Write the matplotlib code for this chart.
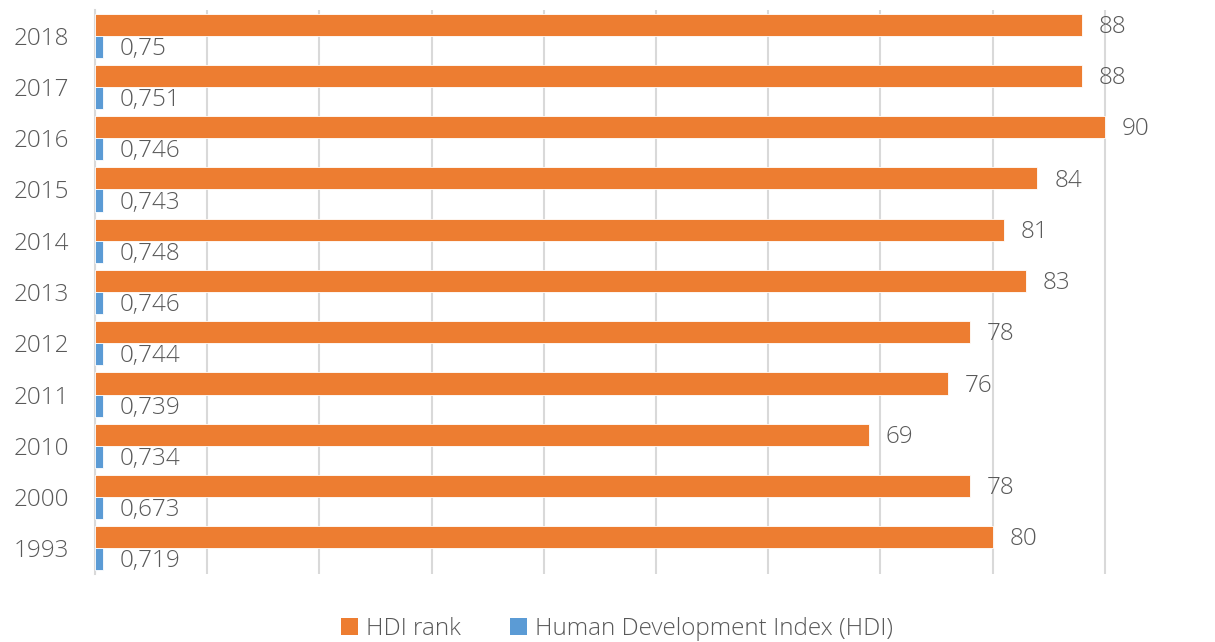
import matplotlib
matplotlib.use("Agg")
import matplotlib.pyplot as plt
import numpy as np
from matplotlib.patches import Patch

years = ["1993", "2000", "2010", "2011", "2012", "2013", "2014", "2015", "2016", "2017", "2018"]
hdi_rank = [80, 78, 69, 76, 78, 83, 81, 84, 90, 88, 88]
hdi_index = [0.719, 0.673, 0.734, 0.739, 0.744, 0.746, 0.748, 0.743, 0.746, 0.751, 0.75]
hdi_labels = ["0,719", "0,673", "0,734", "0,739", "0,744", "0,746", "0,748", "0,743", "0,746", "0,751", "0,75"]

orange = "#ED7D31"
blue = "#5B9BD5"
txt = "#595959"

plt.rcParams['font.family'] = ['Open Sans', 'DejaVu Sans']
FS = 17.5

fig = plt.figure(figsize=(12.15, 6.42), dpi=100)
ax = fig.add_axes([95/1215, 1 - 574/642, 1122/1215, (574-10)/642])

y = np.arange(len(years))
h = 0.43
ax.barh(y + h/2, hdi_rank, height=h, color=orange, edgecolor="white", linewidth=0.6, zorder=3)
ax.barh(y - h/2, hdi_index, height=h, color=blue, edgecolor="white", linewidth=0.6, zorder=3)

for i in range(len(years)):
    ax.annotate(str(hdi_rank[i]), (hdi_rank[i], y[i] + h/2), xytext=(12, -1.5),
                textcoords="offset points", va="center", ha="left", fontsize=FS,
                color=txt, fontweight="light")
    ax.annotate(hdi_labels[i], (hdi_index[i], y[i] - h/2), xytext=(12, -1.5),
                textcoords="offset points", va="center", ha="left", fontsize=FS,
                color=txt, fontweight="light")

ax.set_xlim(0, 100)
ax.set_ylim(-0.5, len(years) - 0.5)
ax.set_xticks(np.arange(0, 101, 10))
ax.set_xticklabels([])
ax.tick_params(axis="x", length=0)
ax.set_yticks(y)
ax.set_yticklabels(years, fontsize=FS, color=txt, fontweight="light")
ax.tick_params(axis="y", length=0, pad=18.5)
ax.grid(axis="x", color="#D9D9D9", linewidth=1.5, zorder=0)
for s in ["top", "right", "bottom"]:
    ax.spines[s].set_visible(False)
ax.spines["left"].set_color("#D9D9D9")
ax.spines["left"].set_linewidth(1.5)

handles = [Patch(facecolor=orange, label="HDI rank"),
           Patch(facecolor=blue, label="Human Development Index (HDI)")]
fig.legend(handles=handles, loc="center", bbox_to_anchor=(617/1215, 1 - 629/642), ncol=2,
           frameon=False, labelcolor=txt, handlelength=0.7, handleheight=0.7,
           handletextpad=0.35, columnspacing=2.0, prop={'weight': 'light', 'size': FS})

fig.savefig("out.png", dpi=100)
